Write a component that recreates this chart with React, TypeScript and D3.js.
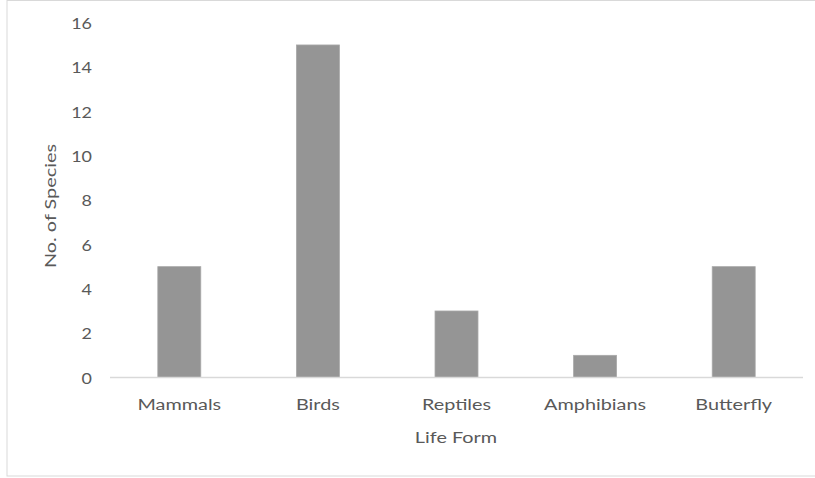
import React from "react";
import * as d3 from "d3";

const categories = ["Mammals", "Birds", "Reptiles", "Amphibians", "Butterfly"];
const species = [5, 15, 3, 1, 5];
const yTicks = [0, 2, 4, 6, 8, 10, 12, 14, 16];
const xTitle = "Life Form";
const yTitle = "No. of Species";

const W = 815;
const H = 478;
const FONT = "Lato, 'Open Sans', sans-serif";
const TXT = "#595959";
const SX = 1.24;
const FS = 16;

export default function App() {
  const x = d3.scaleBand<string>().domain(categories).range([110, 803]).paddingInner(0.69).paddingOuter(0.345);
  const y = d3.scaleLinear().domain([0, 16]).range([377.5, 22.8]);

  return (
    <svg width={W} height={H} style={{ position: "absolute", left: 0, top: 0, background: "#fff" }}>
      <rect x={7} y={0.5} width={W + 10} height={475.5} fill="#fff" stroke="#d9d9d9" strokeWidth={1} />
      {yTicks.map((t) => (
        <text
          key={t}
          transform={`translate(92,${y(t)}) scale(1.12,1)`}
          textAnchor="end"
          dominantBaseline="central"
          fontFamily={FONT}
          fontSize={FS}
          fill={TXT}
        >
          {t}
        </text>
      ))}
      {categories.map((c, i) => (
        <rect
          key={c}
          x={x(c)!}
          y={y(species[i])}
          width={x.bandwidth()}
          height={y(0) - y(species[i])}
          fill="#959595"
          stroke="#a8a8a8"
          strokeWidth={0.8}
        />
      ))}
      <line x1={110} x2={803} y1={y(0)} y2={y(0)} stroke="#d9d9d9" strokeWidth={1.5} />
      {categories.map((c) => (
        <text
          key={c}
          transform={`translate(${x(c)! + x.bandwidth() / 2},404) scale(${SX},1)`}
          textAnchor="middle"
          dominantBaseline="central"
          fontFamily={FONT}
          fontSize={FS}
          fill={TXT}
        >
          {c}
        </text>
      ))}
      <text
        transform={`translate(456,437) scale(${SX},1)`}
        textAnchor="middle"
        dominantBaseline="central"
        fontFamily={FONT}
        fontSize={FS}
        fill={TXT}
      >
        {xTitle}
      </text>
      <text
        transform={`translate(50,206) rotate(-90) scale(${SX},1)`}
        textAnchor="middle"
        dominantBaseline="central"
        fontFamily={FONT}
        fontSize={FS}
        fill={TXT}
      >
        {yTitle}
      </text>
    </svg>
  );
}
